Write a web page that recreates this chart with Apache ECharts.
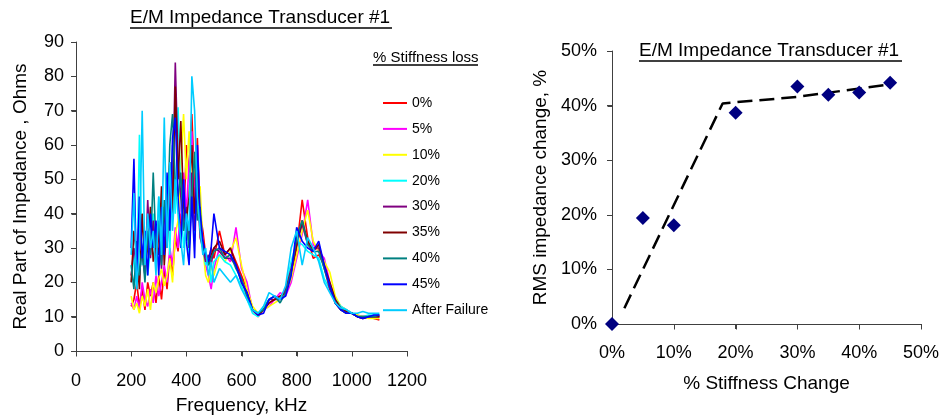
<!DOCTYPE html>
<html><head><meta charset="utf-8">
<script src="https://cdn.jsdelivr.net/npm/echarts@6/dist/echarts.min.js"></script>
<style>html,body{margin:0;padding:0;background:#fff}#c{width:943px;height:420px;background:#fff}</style>
</head><body><div id="c"></div>
<script>
// Frequency (kHz)
var freq = [200,210,220,230,240,250,260,270,280,290,300,310,320,330,340,350,360,370,380,390,400,410,420,430,440,450,460,470,480,490,500,
  520,540,560,580,600,620,640,660,680,700,720,740,760,780,800,820,840,860,880,900,920,940,960,980,1000,1020,1040,1060,1080,1100];
var seriesNames = ['0%','5%','10%','20%','30%','35%','40%','45%','After Failure'];
var s0 = [13,15,20,13,18,12,20,16,20,14,22,15,24,18,28,22,33,29,40,35,60,52,69,48,62,40,35,28,26,30,27,
  35,28,30,26,22,18,12,10,12,14,15,16,17,22,30,44,33,27,28,25,19,14,12,11,11,10,10,10,9.5,9];
var s5 = [14,12,16,12,20,15,13,18,14,22,16,20,25,20,30,25,36,30,45,52,40,55,64,42,60,38,32,25,22,18,24,
  30,28,26,36,24,20,12,11,12,13,15,17,16,20,27,34,44,31,29,27,20,15,13,12,11,10.5,10,10,10,10];
var s10 = [16,12,14,11,16,13,18,12,20,17,21,24,19,22,27,20,34,38,55,69,50,64,45,58,40,48,30,22,20,25,22,
  28,26,29,33,25,18,13,11,12,13,14,15,17,21,28,35,41,32,29,26,23,16,13,12,11,10.5,10,9.5,9.5,9.5];
var s20 = [20,28,18,63,25,35,22,30,40,26,45,30,35,50,28,60,40,71,45,30,38,28,50,32,55,38,30,25,28,20,26,
  28,26,25,22,19,15,11,10,13,15,16,15,18,26,32,31,29,28,27,21,18,15,13,12,11,10,10,10.5,10.5,10.5];
var s30 = [22,30,25,40,28,22,44,27,38,25,35,24,42,30,50,45,84,55,45,38,42,30,52,35,48,33,30,26,28,25,30,
  29,27,27,25,21,16,12,10.5,12,15,15,15,18,24,31,37,31,30,30,24,18,14,12,11.5,11,10,9.5,10,10,10];
var s35 = [20,35,28,18,40,25,30,42,26,32,28,48,25,38,55,40,77,50,67,42,38,45,60,40,52,35,32,28,25,28,30,
  32,28,30,25,20,17,12,10.5,12,14,15,16,17,23,31,38,32,29,31,25,20,15,12.5,11.5,11,10,9.5,10,10,10];
var s40 = [25,18,32,22,30,20,35,28,52,30,38,25,44,32,60,69,48,45,52,35,40,30,45,58,38,42,30,28,25,27,29,
  30,27,28,24,21,16,12,11,12,15,16,14,17,23,33,38,31,29,29,24,19,14,12,11,11,10,10,10,10,10.5];
var s45 = [30,56,20,45,27,35,22,40,30,38,22,42,28,52,35,62,68,45,30,50,32,25,45,27,60,40,32,28,26,30,40,
  30,29,28,25,20,17,12,10.5,11,15,16,15,16,22,36,32,30,29,32,25,19,14,12,11,11,10,9.5,10,10.5,10.5];
var sAF = [28,46,18,30,70,25,40,30,35,22,45,28,68,30,55,35,50,40,32,25,40,35,80,70,45,35,28,30,22,26,20,
  24,22,20,22,18,15,12,11,13,17,16,15,19,30,35,25,33,30,26,20,17,14,12.5,12,11,11,11.5,11,11,11];
var lineColors = ['#ff0000','#ff00ff','#ffff00','#00ffff','#800080','#800000','#008080','#0000ff','#00ccff'];
// Right panel
var stiffChange = [0,5,10,20,30,35,40,45];
var rmsChange = [0,19.4,18.1,38.7,43.5,42.0,42.4,44.2];
var trendX = [2,17.9,30,45];
var trendY = [2.9,40.4,41.6,43.9];
var leftXTicks = {min:0,max:1200,interval:200};
var leftYTicks = {min:0,max:90,interval:10};
var rightTicks = {min:0,max:50,interval:10};

var allS = [s0,s5,s10,s20,s30,s35,s40,s45,sAF];
var FONT = 'Liberation Sans, Arial, sans-serif';
var axisCol = '#404040';
function pairs(xs, ys){ return xs.map(function(x,i){return [x, ys[i]];}); }

var series = allS.map(function(d,i){
  return {name: seriesNames[i], type:'line', xAxisIndex:0, yAxisIndex:0, data: pairs(freq,d),
    symbol:'none', lineStyle:{width:1.6, color: lineColors[i]}, itemStyle:{color: lineColors[i]}};
});
series.push({type:'line', xAxisIndex:1, yAxisIndex:1, data: pairs(trendX,trendY), symbol:'none',
  lineStyle:{color:'#000', width:2.5, type:[15,7]}, z:2});
series.push({type:'scatter', xAxisIndex:1, yAxisIndex:1, data: pairs(stiffChange,rmsChange), symbol:'diamond',
  symbolSize:14, itemStyle:{color:'#000080', opacity:1}, z:3});

function plain(v){ return String(v); }
function pct(v){ return v + '%'; }
function valAxis(gi, t, name, gap, fmt, margin){
  return {type:'value', gridIndex:gi, min:t.min, max:t.max, interval:t.interval,
    name:name, nameLocation:'middle', nameGap:gap,
    nameTextStyle:{fontFamily:FONT, fontSize:19, color:'#000'},
    axisLine:{show:true, lineStyle:{color:axisCol, width:1}},
    axisTick:{show:true, length:5, lineStyle:{color:axisCol, width:1}},
    axisLabel:{fontFamily:FONT, fontSize:18, color:'#000', margin:margin, formatter:fmt},
    splitLine:{show:false}};
}

var underlines = [
  {type:'line', shape:{x1:130, y1:28, x2:392, y2:28}, style:{stroke:'#000', lineWidth:1.5}},
  {type:'line', shape:{x1:639, y1:61, x2:902, y2:61}, style:{stroke:'#000', lineWidth:1.5}},
  {type:'line', shape:{x1:373, y1:65, x2:478, y2:65}, style:{stroke:'#000', lineWidth:1.5}}
];

var option = {
  title:[
    {text:'E/M Impedance Transducer #1', left:130, top:8, padding:0, textStyle:{fontFamily:FONT, fontSize:19, fontWeight:'normal', color:'#000'}},
    {text:'E/M Impedance Transducer #1', left:639, top:41, padding:0, textStyle:{fontFamily:FONT, fontSize:19, fontWeight:'normal', color:'#000'}},
    {text:'% Stiffness loss', left:373, top:50, padding:0, textStyle:{fontFamily:FONT, fontSize:15, fontWeight:'normal', color:'#000'}}
  ],
  legend:{orient:'vertical', left:383, top:96, padding:0, itemWidth:24, itemHeight:12, itemGap:11.9,
    data:seriesNames, textStyle:{fontFamily:FONT, fontSize:14, color:'#000'}, icon:'path://M0,5L24,5L24,7L0,7Z'},
  grid:[{left:76, top:42, width:331, height:313}, {left:612, top:51, width:309, height:273}],
  xAxis:[valAxis(0, leftXTicks, 'Frequency, kHz', 45, plain, 21),
         valAxis(1, rightTicks, '% Stiffness Change', 50, pct, 20)],
  yAxis:[valAxis(0, leftYTicks, 'Real Part of Impedance , Ohms', 46, plain, 12),
         valAxis(1, rightTicks, 'RMS impedance change, %', 62, pct, 15)],
  series: series,
  graphic: underlines
};
var chart = echarts.init(document.getElementById('c'), null, {renderer:'canvas'});
chart.setOption(option);

// Axis lines and tick marks placed through the library's own scales
(function(){
  var els = [];
  function crisp(v){ return Math.round(v) + 0.5; }
  function seg(x1,y1,x2,y2){
    els.push({type:'line', z:1, silent:true, shape:{x1:x1,y1:y1,x2:x2,y2:y2}, style:{stroke:axisCol, lineWidth:1}});
  }
  function addAxes(gi, xt, yt){
    var finder = {xAxisIndex:gi, yAxisIndex:gi};
    var o = chart.convertToPixel(finder, [xt.min, yt.min]);
    var xe = chart.convertToPixel(finder, [xt.max, yt.min]);
    var ye = chart.convertToPixel(finder, [xt.min, yt.max]);
    if (!o || !xe || !ye) return;
    var ox = crisp(o[0]), oy = crisp(o[1]);
    seg(ox, oy, xe[0], oy);
    seg(ox, oy, ox, ye[1]);
    for (var v = xt.min; v <= xt.max + 1e-9; v += xt.interval) {
      var p = chart.convertToPixel(finder, [v, yt.min]);
      var px = crisp(p[0]);
      seg(px, oy, px, oy + 5);
    }
    for (var w = yt.min; w <= yt.max + 1e-9; w += yt.interval) {
      var q = chart.convertToPixel(finder, [xt.min, w]);
      var qy = crisp(q[1]);
      seg(ox - 5, qy, ox, qy);
    }
  }
  try {
    addAxes(0, leftXTicks, leftYTicks);
    addAxes(1, rightTicks, rightTicks);
    chart.setOption({graphic: underlines.concat(els)});
  } catch (e) {}
})();
</script></body></html>
